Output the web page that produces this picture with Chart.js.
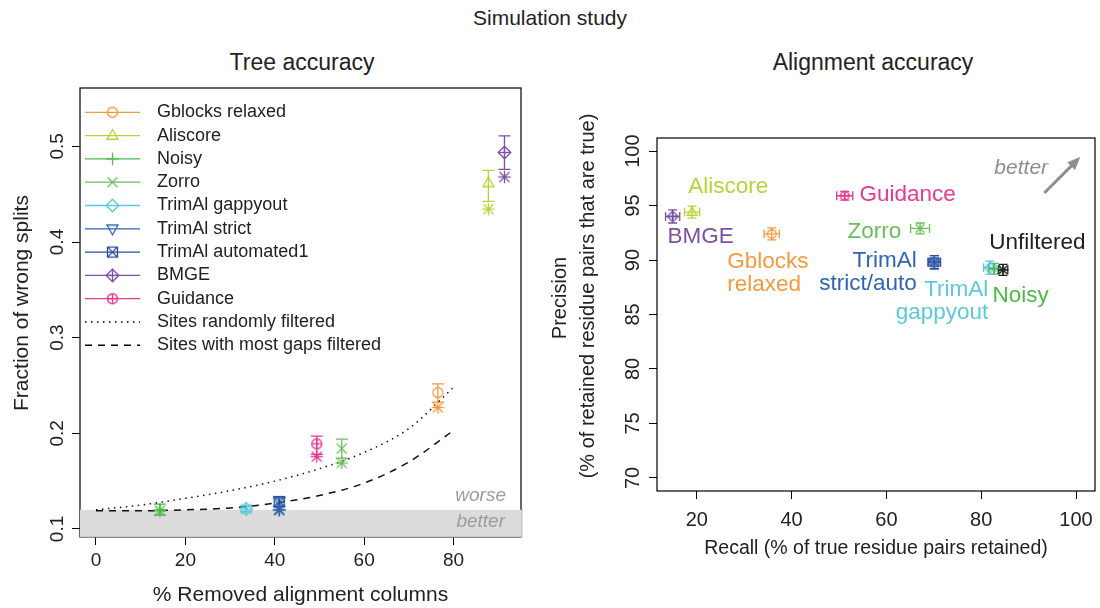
<!DOCTYPE html>
<html>
<head>
<meta charset="utf-8">
<script src="https://cdn.jsdelivr.net/npm/chart.js@4.4.0/dist/chart.umd.min.js"></script>
<style>
  body { margin: 0; background: #fff; width: 1100px; height: 608px; position: relative; overflow: hidden;
         font-family: "Liberation Sans", Arial, Helvetica, sans-serif; color: #222; }
  .title { position: absolute; transform: translate(-50%, -50%); white-space: nowrap; }
  #treeChart { position: absolute; left: 0; top: 0; }
  #alnChart { position: absolute; left: 550px; top: 0; }
</style>
</head>
<body>
<div class="title" style="left:550px;top:18px;font-size:21px">Simulation study</div>
<div class="title" style="left:302px;top:62px;font-size:23px">Tree accuracy</div>
<div class="title" style="left:873px;top:62px;font-size:23px">Alignment accuracy</div>
<canvas id="treeChart" width="550" height="608"></canvas>
<canvas id="alnChart" width="550" height="608"></canvas>
<script>
// * Data
const methods = ["Gblocks relaxed", "Aliscore", "Noisy", "Zorro", "TrimAl gappyout",
  "TrimAl strict", "TrimAl automated1", "BMGE", "Guidance"];
const methodColours = ["#F39A3D", "#B8D335", "#4FB947", "#6ABD5A", "#5CC8DB",
  "#2E64B2", "#2B4E9C", "#7D4FA5", "#E8388F"];
const methodMarkers = ["circle", "triangle", "plus", "x", "diamond",
  "downTri", "squareX", "diamondPlus", "circlePlus"];

// tree accuracy panel
const removedPct = [76.5, 87.8, 14.3, 55.0, 33.6, 41.0, 41.0, 91.4, 49.4];
const wrongSplits = [0.2426, 0.4617, 0.120, 0.184, 0.121, 0.1285, 0.1285, 0.4936, 0.189];
const wrongLow = [0.2326, 0.4424, 0.1146, 0.174, 0.118, 0.1235, 0.1235, 0.476, 0.178];
const wrongHigh = [0.2517, 0.4748, 0.126, 0.194, 0.124, 0.1335, 0.1335, 0.511, 0.197];
const wrongStar = [0.227, 0.4344, 0.119, 0.169, 0.121, 0.120, 0.120, 0.468, 0.1756];
const curvePct = [0, 10, 20, 30, 40, 50, 60, 70, 80];
const randomCurve = [0.120, 0.125, 0.132, 0.140, 0.150, 0.163, 0.180, 0.205, 0.248];
const gapsCurve = [0.119, 0.119, 0.120, 0.122, 0.127, 0.135, 0.148, 0.170, 0.203];
const unfilteredWrong = 0.12;
const treeXTicks = [0, 20, 40, 60, 80];
const treeYTicks = [0.1, 0.2, 0.3, 0.4, 0.5];

// alignment accuracy panel (order as methods, then Unfiltered)
const alnNames = methods.concat(["Unfiltered"]);
const alnColours = methodColours.concat(["#222222"]);
const alnMarkers = methodMarkers.concat(["star"]);
const recall = [35.8, 19.0, 82.7, 67.1, 81.8, 70.1, 70.1, 14.9, 51.2, 84.6];
const precision = [92.4, 94.4, 89.2, 92.9, 89.3, 89.8, 89.8, 94.0, 95.9, 89.1];
const recallErr = [1.6, 1.6, 1.2, 2.0, 1.3, 1.3, 1.3, 1.5, 1.7, 1.0];
const precisionErr = [0.55, 0.55, 0.5, 0.5, 0.6, 0.6, 0.6, 0.6, 0.4, 0.5];
const alnXTicks = [20, 40, 60, 80, 100];
const alnYTicks = [70, 75, 80, 85, 90, 95, 100];

// * Markers (R pch look-alikes)
function makeMarker(kind, colour, r, lw) {
  const s = Math.ceil(r * 2 + lw * 2 + 6);
  const c = document.createElement("canvas");
  c.width = s; c.height = s;
  const g = c.getContext("2d");
  g.strokeStyle = colour; g.lineWidth = lw;
  g.translate(s / 2, s / 2);
  const line = (x1, y1, x2, y2) => { g.beginPath(); g.moveTo(x1, y1); g.lineTo(x2, y2); g.stroke(); };
  const poly = (pts) => {
    g.beginPath();
    pts.forEach((p, i) => (i ? g.lineTo(p[0], p[1]) : g.moveTo(p[0], p[1])));
    g.closePath(); g.stroke();
  };
  const d = r * 1.25;
  if (kind === "circle") { g.beginPath(); g.arc(0, 0, r, 0, Math.PI * 2); g.stroke(); }
  else if (kind === "triangle") poly([[0, -r * 1.2], [r * 1.1, r * 0.75], [-r * 1.1, r * 0.75]]);
  else if (kind === "downTri") poly([[0, r * 1.2], [r * 1.1, -r * 0.75], [-r * 1.1, -r * 0.75]]);
  else if (kind === "plus") { line(-d, 0, d, 0); line(0, -d, 0, d); }
  else if (kind === "x") { line(-r, -r, r, r); line(-r, r, r, -r); }
  else if (kind === "diamond") poly([[0, -d], [d, 0], [0, d], [-d, 0]]);
  else if (kind === "squareX") { g.strokeRect(-r, -r, 2 * r, 2 * r); line(-r, -r, r, r); line(-r, r, r, -r); }
  else if (kind === "diamondPlus") { poly([[0, -d], [d, 0], [0, d], [-d, 0]]); line(-d, 0, d, 0); line(0, -d, 0, d); }
  else if (kind === "circlePlus") { g.beginPath(); g.arc(0, 0, r, 0, Math.PI * 2); g.stroke(); line(-r, 0, r, 0); line(0, -r, 0, r); }
  else if (kind === "star") { line(-d, 0, d, 0); line(0, -d, 0, d); line(-r, -r, r, r); line(-r, r, r, -r); }
  return c;
}

const FONT = '"Liberation Sans", Arial, Helvetica, sans-serif';
Chart.defaults.font.family = FONT;
Chart.defaults.color = "#222";
Chart.defaults.animation = false;

const treeMarkerImgs = methods.map((m, i) => makeMarker(methodMarkers[i], methodColours[i], 5, 1.3));
const treeStarImgs = methods.map((m, i) => makeMarker("star", methodColours[i], 5, 1.3));
const alnMarkerImgs = alnNames.map((m, i) => makeMarker(alnMarkers[i], alnColours[i], 4.3, 1.4));

function fixedAxis(size, isX) {
  return (s) => {
    if (isX) s.height = size; else s.width = size;
    s.paddingLeft = s.paddingRight = s.paddingTop = s.paddingBottom = 0;
  };
}
const tickGrid = { drawOnChartArea: false, drawTicks: true, tickLength: 8, color: "#000", lineWidth: 1 };

// * Tree accuracy
const treeDecor = {
  id: "treeDecor",
  beforeDatasetsDraw(chart) {
    const { ctx, chartArea: a, scales: { x, y } } = chart;
    ctx.save();
    ctx.strokeStyle = "#000"; ctx.lineWidth = 1.2;
    ctx.strokeRect(a.left, a.top, a.right - a.left, a.bottom - a.top);
    // grey "better" band below unfiltered accuracy
    const bandTop = y.getPixelForValue(unfilteredWrong);
    ctx.fillStyle = "#DCDCDD";
    ctx.fillRect(a.left, bandTop, a.right - a.left + 1, a.bottom - bandTop);
    ctx.strokeStyle = "#B5B5B5"; ctx.lineWidth = 1;
    ctx.beginPath();
    ctx.moveTo(a.right + 1, bandTop); ctx.lineTo(a.right + 1, a.bottom); ctx.lineTo(a.left, a.bottom);
    ctx.stroke();
    ctx.fillStyle = "#9C9C9C";
    ctx.font = "italic 19px " + FONT;
    ctx.textAlign = "right"; ctx.textBaseline = "middle";
    ctx.fillText("worse", a.right - 15, bandTop - 14);
    ctx.fillText("better", a.right - 16, bandTop + 12);
    // error bars
    ctx.lineWidth = 1.3;
    methods.forEach((m, i) => {
      const px = x.getPixelForValue(removedPct[i]);
      const lo = y.getPixelForValue(wrongLow[i]);
      const hi = y.getPixelForValue(wrongHigh[i]);
      ctx.strokeStyle = methodColours[i];
      ctx.beginPath();
      ctx.moveTo(px, lo); ctx.lineTo(px, hi);
      ctx.moveTo(px - 6, lo); ctx.lineTo(px + 6, lo);
      ctx.moveTo(px - 6, hi); ctx.lineTo(px + 6, hi);
      ctx.stroke();
    });
    ctx.restore();
  },
  afterDraw(chart) {
    const { ctx, chartArea: a } = chart;
    ctx.save();
    // y title
    ctx.fillStyle = "#222";
    ctx.font = "21px " + FONT;
    ctx.textAlign = "center"; ctx.textBaseline = "middle";
    ctx.translate(22, 303); ctx.rotate(-Math.PI / 2);
    ctx.fillText("Fraction of wrong splits", 0, 0);
    ctx.restore();
    // legend
    ctx.save();
    ctx.font = "18px " + FONT;
    ctx.textAlign = "left"; ctx.textBaseline = "middle";
    const x0 = a.left + 5, x1 = a.left + 60, tx = a.left + 77;
    const rowY = (i) => 112.3 + i * 23.3;
    methods.forEach((m, i) => {
      const yy = rowY(i);
      ctx.strokeStyle = methodColours[i]; ctx.lineWidth = 1.3;
      ctx.beginPath(); ctx.moveTo(x0, yy); ctx.lineTo(x1, yy); ctx.stroke();
      const img = treeMarkerImgs[i];
      ctx.drawImage(img, (x0 + x1) / 2 - img.width / 2, yy - img.height / 2);
      ctx.fillStyle = "#222";
      ctx.fillText(m, tx, yy);
    });
    ctx.strokeStyle = "#000"; ctx.lineWidth = 1.4;
    [["Sites randomly filtered", [1.5, 4.5]], ["Sites with most gaps filtered", [7, 6]]].forEach((item, k) => {
      const yy = rowY(methods.length + k);
      ctx.setLineDash(item[1]);
      ctx.beginPath(); ctx.moveTo(x0, yy); ctx.lineTo(x1, yy); ctx.stroke();
      ctx.fillStyle = "#222";
      ctx.fillText(item[0], tx, yy);
    });
    ctx.restore();
  }
};

const treeSets = methods.map((m, i) => ({
  label: m,
  data: [{ x: removedPct[i], y: wrongSplits[i] }, { x: removedPct[i], y: wrongStar[i] }],
  pointStyle: [treeMarkerImgs[i], treeStarImgs[i]],
  pointRadius: 5,
  borderColor: methodColours[i],
}));
treeSets.push({
  label: "Sites randomly filtered",
  data: curvePct.map((v, i) => ({ x: v, y: randomCurve[i] })),
  showLine: true, pointRadius: 0, borderColor: "#111", borderWidth: 1.5,
  borderDash: [1.5, 4.5], cubicInterpolationMode: "monotone",
});
treeSets.push({
  label: "Sites with most gaps filtered",
  data: curvePct.map((v, i) => ({ x: v, y: gapsCurve[i] })),
  showLine: true, pointRadius: 0, borderColor: "#111", borderWidth: 1.5,
  borderDash: [7, 6], cubicInterpolationMode: "monotone",
});

new Chart(document.getElementById("treeChart"), {
  type: "scatter",
  data: { datasets: treeSets },
  options: {
    responsive: false,
    layout: { padding: { top: 88, left: 0, right: 29, bottom: 0 } },
    plugins: { legend: { display: false }, tooltip: { enabled: false } },
    scales: {
      x: {
        type: "linear", min: -3.58, max: 95.1,
        afterBuildTicks: (s) => { s.ticks = treeXTicks.map((v) => ({ value: v })); },
        afterFit: fixedAxis(71, true),
        grid: tickGrid, border: { display: false },
        ticks: { padding: 4, font: { size: 19 }, color: "#222", maxRotation: 0, autoSkip: false, callback: (v) => String(v) },
        title: { display: true, text: "% Removed alignment columns", font: { size: 21 }, color: "#222", padding: { top: 0, bottom: 0 } },
      },
      y: {
        type: "linear", min: 0.0916, max: 0.561,
        afterBuildTicks: (s) => { s.ticks = treeYTicks.map((v) => ({ value: v })); },
        afterFit: fixedAxis(80, false),
        grid: tickGrid, border: { display: false },
        ticks: { padding: 1, font: { size: 19 }, color: "#222", minRotation: 90, maxRotation: 90, crossAlign: "center", autoSkip: false, callback: (v) => v.toFixed(1) },
      },
    },
  },
  plugins: [treeDecor],
});

// * Alignment accuracy
const alnLabels = [
  { lines: ["Aliscore"], x: 18.2, y: 96.70, align: "left", colour: methodColours[1] },
  { lines: ["BMGE"], x: 13.8, y: 92.14, align: "left", colour: methodColours[7] },
  { lines: ["Gblocks", "relaxed"], x: 26.4, y: 89.86, align: "left", colour: methodColours[0] },
  { lines: ["Guidance"], x: 54.3, y: 95.97, align: "left", colour: methodColours[8] },
  { lines: ["Zorro"], x: 51.8, y: 92.57, align: "left", colour: methodColours[3] },
  { lines: ["TrimAl", "strict/auto"], x: 66.4, y: 89.91, align: "right", colour: methodColours[5] },
  { lines: ["TrimAl", "gappyout"], x: 81.5, y: 87.25, align: "right", colour: methodColours[4] },
  { lines: ["Noisy"], x: 82.4, y: 86.70, align: "left", colour: methodColours[2] },
  { lines: ["Unfiltered"], x: 81.7, y: 91.56, align: "left", colour: "#222" },
];

const alnDecor = {
  id: "alnDecor",
  beforeDatasetsDraw(chart) {
    const { ctx, chartArea: a, scales: { x, y } } = chart;
    ctx.save();
    ctx.strokeStyle = "#000"; ctx.lineWidth = 1.2;
    ctx.strokeRect(a.left, a.top, a.right - a.left, a.bottom - a.top);
    ctx.lineWidth = 1.3;
    alnNames.forEach((m, i) => {
      const px = x.getPixelForValue(recall[i]), py = y.getPixelForValue(precision[i]);
      const xl = x.getPixelForValue(recall[i] - recallErr[i]), xr = x.getPixelForValue(recall[i] + recallErr[i]);
      const yt = y.getPixelForValue(precision[i] + precisionErr[i]), yb = y.getPixelForValue(precision[i] - precisionErr[i]);
      ctx.strokeStyle = alnColours[i];
      ctx.beginPath();
      ctx.moveTo(xl, py); ctx.lineTo(xr, py);
      ctx.moveTo(xl, py - 4.5); ctx.lineTo(xl, py + 4.5);
      ctx.moveTo(xr, py - 4.5); ctx.lineTo(xr, py + 4.5);
      ctx.moveTo(px, yt); ctx.lineTo(px, yb);
      ctx.moveTo(px - 4.5, yt); ctx.lineTo(px + 4.5, yt);
      ctx.moveTo(px - 4.5, yb); ctx.lineTo(px + 4.5, yb);
      ctx.stroke();
    });
    // method labels
    ctx.font = "22.5px " + FONT;
    ctx.textBaseline = "middle";
    alnLabels.forEach((l) => {
      ctx.fillStyle = l.colour; ctx.textAlign = l.align;
      l.lines.forEach((t, k) => ctx.fillText(t, x.getPixelForValue(l.x), y.getPixelForValue(l.y) + k * 23));
    });
    // "better" arrow
    ctx.fillStyle = "#8E8E8E";
    ctx.font = "italic 21px " + FONT;
    ctx.textAlign = "right";
    ctx.fillText("better", x.getPixelForValue(94.1), y.getPixelForValue(98.42));
    const ax0 = x.getPixelForValue(93.3), ay0 = y.getPixelForValue(96.15);
    const ax1 = x.getPixelForValue(100.9), ay1 = y.getPixelForValue(99.45);
    const ang = Math.atan2(ay1 - ay0, ax1 - ax0);
    ctx.strokeStyle = "#8E8E8E"; ctx.lineWidth = 3;
    ctx.beginPath(); ctx.moveTo(ax0, ay0);
    ctx.lineTo(ax1 - 9 * Math.cos(ang), ay1 - 9 * Math.sin(ang)); ctx.stroke();
    ctx.beginPath();
    ctx.moveTo(ax1, ay1);
    ctx.lineTo(ax1 - 14 * Math.cos(ang - 0.4), ay1 - 14 * Math.sin(ang - 0.4));
    ctx.lineTo(ax1 - 14 * Math.cos(ang + 0.4), ay1 - 14 * Math.sin(ang + 0.4));
    ctx.closePath(); ctx.fill();
    ctx.restore();
  },
  afterDraw(chart) {
    const { ctx } = chart;
    ctx.save();
    ctx.fillStyle = "#222";
    ctx.font = "20px " + FONT;
    ctx.textAlign = "center"; ctx.textBaseline = "middle";
    ctx.translate(10, 298); ctx.rotate(-Math.PI / 2);
    ctx.fillText("Precision", 0, 0);
    ctx.fillText("(% of retained residue pairs that are true)", 2, 28);
    ctx.restore();
  }
};

new Chart(document.getElementById("alnChart"), {
  type: "scatter",
  data: {
    datasets: alnNames.map((m, i) => ({
      label: m,
      data: [{ x: recall[i], y: precision[i] }],
      pointStyle: alnMarkerImgs[i],
      pointRadius: 4,
      borderColor: alnColours[i],
    })),
  },
  options: {
    responsive: false,
    layout: { padding: { top: 138, left: 0, right: 4, bottom: 46 } },
    plugins: { legend: { display: false }, tooltip: { enabled: false } },
    scales: {
      x: {
        type: "linear", min: 11.6, max: 104,
        afterBuildTicks: (s) => { s.ticks = alnXTicks.map((v) => ({ value: v })); },
        afterFit: fixedAxis(71, true),
        grid: tickGrid, border: { display: false },
        ticks: { padding: 9, font: { size: 20 }, color: "#222", maxRotation: 0, autoSkip: false, callback: (v) => String(v) },
        title: { display: true, text: "Recall (% of true residue pairs retained)", font: { size: 19.5 }, color: "#222", padding: { top: 0, bottom: 2 } },
      },
      y: {
        type: "linear", min: 68.8, max: 101.2,
        afterBuildTicks: (s) => { s.ticks = alnYTicks.map((v) => ({ value: v })); },
        afterFit: fixedAxis(107, false),
        grid: tickGrid, border: { display: false },
        ticks: { padding: -1, font: { size: 20 }, color: "#222", minRotation: 90, maxRotation: 90, crossAlign: "center", autoSkip: false, callback: (v) => String(v) },
      },
    },
  },
  plugins: [alnDecor],
});
</script>
</body>
</html>
